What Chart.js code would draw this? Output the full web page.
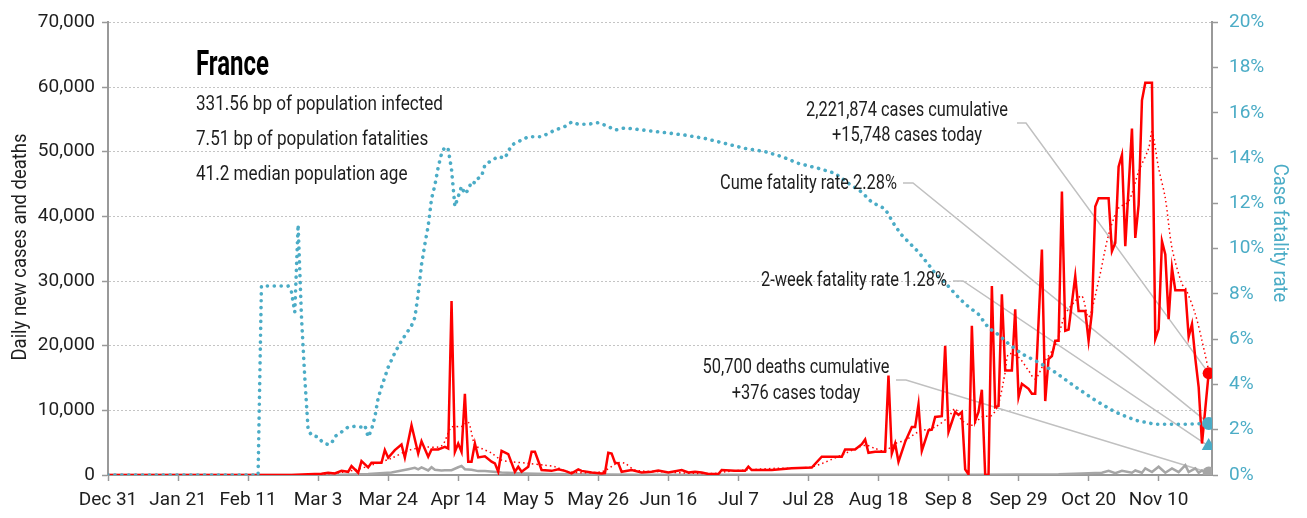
<!DOCTYPE html>
<html>
<head>
<meta charset="utf-8">
<script src="https://cdn.jsdelivr.net/npm/chart.js@4.4.1/dist/chart.umd.min.js"></script>
<style>
  html, body { margin: 0; padding: 0; background: #fff; }
  #wrap { width: 1307px; height: 518px; }
</style>
</head>
<body>
<div id="wrap"><canvas id="chart"></canvas></div>
<script>
// France: daily cases / deaths and case fatality rate

// DATA
// ============================================================
// x values are days since Dec 31
const xTickDays   = [0, 21, 42, 63, 84, 105, 126, 147, 168, 189, 210, 231, 252, 273, 294, 315];
const xTickLabels = ['Dec 31','Jan 21','Feb 11','Mar 3','Mar 24','Apr 14','May 5','May 26',
                     'Jun 16','Jul 7','Jul 28','Aug 18','Sep 8','Sep 29','Oct 20','Nov 10'];
const lastDay = 330;

// [day, new cases]
const dailyCases = [
  [0,0],[55,0],[60,100],[64,200],[66,350],[68,250],[70,660],[72,500],[73,1380],[75,350],[76,2150],
  [78,1180],[79,1900],[82,1900],[83,3850],[84,2670],[86,3850],[88,4720],[89,2670],[91,7690],[93,3330],
  [94,5230],[96,2820],[97,3950],[99,3950],[101,4360],[102,4100],[103,26900],[104,3590],[105,4870],
  [106,3590],[107,12560],[108,2050],[109,2050],[110,4870],[111,2720],[113,2900],[115,2050],[116,1800],
  [117,500],[118,3740],[120,3230],[122,500],[123,1280],[124,500],[126,1280],[127,3590],[128,3590],
  [130,770],[133,640],[135,870],[137,640],[139,250],[141,870],[142,640],[145,400],[148,250],[149,300],
  [150,3440],[151,3330],[152,1900],[153,1800],[154,500],[157,770],[160,400],[163,500],[165,700],
  [168,400],[172,770],[174,400],[176,500],[178,400],[180,150],[183,150],[184,770],[188,640],[191,640],
  [192,1280],[193,770],[199,770],[205,1030],[211,1150],[214,2820],[220,2820],[221,3950],[224,3950],
  [226,4770],[227,5490],[228,3440],[230,3600],[233,3600],[234,15380],[235,3330],[236,4870],[237,2050],
  [239,5130],[241,7440],[242,7440],[243,10920],[244,3740],[246,6920],[247,7000],[248,8970],[250,9100],
  [251,20000],[252,6670],[254,9740],[255,9300],[256,9740],[257,870],[258,100],[259,23080],[260,8360],
  [261,9740],[262,13180],[263,0],[264,0],[265,29230],[266,10500],[267,10700],[268,27950],[269,16150],
  [271,16150],[272,25640],[273,12050],[274,14100],[276,13330],[277,12560],[278,12560],[280,34870],
  [281,11440],[282,17950],[283,18400],[284,20770],[285,20770],[286,43850],[287,22300],[288,22500],
  [290,30770],[291,25380],[293,25380],[294,20770],[295,25130],[296,41540],[297,42820],[300,42820],
  [301,34620],[302,35900],[303,47690],[304,49490],[305,35380],[307,53590],[308,36670],[309,41790],
  [310,57950],[311,60670],[313,60670],[314,21030],[315,22560],[316,36150],[317,34100],[318,24100],
  [319,32050],[320,28560],[323,28560],[324,21380],[325,23330],[326,18000],[327,13590],[328,4870],
  [329,10300],[330,15748]
];

// [day, 7-day average of new cases]
const avgCases = [
  [0,0],[60,0],[66,200],[70,400],[75,900],[80,1700],[85,2600],[90,3800],[95,4300],[100,4500],
  [103,7400],[106,7500],[108,8200],[110,4600],[112,4100],[115,3380],[118,2300],[121,2050],[126,1800],
  [131,1500],[134,1280],[138,500],[148,500],[153,1900],[155,1800],[158,770],[166,500],[176,250],
  [182,250],[185,500],[191,770],[200,1030],[211,1280],[221,3330],[227,4600],[230,4100],[233,3720],
  [236,4870],[239,5380],[243,6670],[248,7440],[252,8970],[254,10260],[256,8460],[259,7700],[262,8970],
  [265,9230],[267,11030],[269,15900],[270,18720],[273,18200],[276,16150],[278,14870],[281,17690],
  [284,20000],[287,24870],[290,26900],[292,27700],[294,24400],[297,30000],[300,37180],[303,41280],
  [306,42300],[309,46920],[312,50510],[313,53080],[315,47430],[317,42820],[319,35120],[322,29490],
  [323,28970],[326,24870],[328,20770],[330,16150]
];

// [day, new deaths]
const dailyDeaths = [
  [0,0],[60,0],[70,50],[78,150],[85,400],[90,900],[92,1100],[93,880],[94,1180],[96,700],[97,1200],
  [98,800],[100,700],[101,750],[103,750],[105,1200],[106,1400],[107,900],[109,800],[111,600],[113,600],
  [118,400],[125,250],[132,150],[140,100],[150,80],[160,50],[180,20],[220,20],[260,50],[285,100],
  [292,250],[298,350],[300,660],[302,300],[304,660],[307,350],[308,700],[310,350],[311,1030],[313,450],
  [315,1280],[317,350],[319,1030],[321,450],[323,1530],[324,450],[326,1030],[327,350],[328,700],[330,376]
];

// [day, case fatality rate %]
const fatalityRate = [
  [0,0],[45,0],[46,8.35],[54,8.35],[55,8.1],[56,7.2],[57,11.06],[58,7.0],[59,4.3],[60,2.0],[61,1.76],
  [63,1.68],[64,1.5],[65,1.39],[66,1.35],[67,1.39],[68,1.7],[70,1.9],[72,2.12],[74,2.15],[76,2.12],
  [77,2.2],[78,1.68],[79,2.0],[80,2.56],[81,3.4],[82,3.88],[84,4.76],[86,5.4],[88,5.93],[91,6.6],
  [92,6.96],[93,8.0],[94,9.3],[95,10.2],[96,11.0],[97,12.2],[98,12.8],[99,13.6],[100,14.2],[101,14.5],
  [102,14.4],[103,13.5],[104,11.87],[105,12.3],[106,12.75],[107,12.42],[108,12.6],[109,12.97],[110,12.9],
  [111,13.11],[112,13.2],[113,13.7],[115,13.9],[117,14.07],[119,14.0],[121,14.58],[124,14.8],[126,14.95],
  [130,14.95],[134,15.24],[137,15.4],[139,15.6],[141,15.5],[144,15.5],[147,15.57],[150,15.4],[152,15.24],
  [155,15.34],[160,15.25],[167,15.13],[173,15.02],[179,14.87],[185,14.65],[191,14.43],[197,14.29],
  [202,14.07],[207,13.77],[213,13.55],[218,13.33],[222,12.89],[226,12.5],[229,12.05],[233,11.76],
  [236,11.0],[238,10.6],[240,10.3],[243,9.85],[246,9.3],[248,8.9],[251,8.5],[254,8.0],[257,7.55],
  [261,7.1],[264,6.5],[267,6.2],[270,5.8],[274,5.35],[279,4.98],[284,4.54],[290,3.9],[296,3.3],
  [302,2.78],[308,2.42],[314,2.24],[322,2.24],[330,2.28]
];

const totalCases   = 2221874;
const todayCases   = 15748;
const totalDeaths  = 50700;
const todayDeaths  = 376;
const cumeRate     = 2.28;
const twoWeekRate  = 1.28;

const statLines = [
  '331.56 bp of population infected',
  '7.51 bp of population fatalities',
  '41.2 median population age'
];

// STYLE
// ============================================================
const FONT  = "Roboto, 'Liberation Sans', sans-serif";
const RED   = '#ff0000';
const TEAL  = '#4bacc6';
const GREY  = '#a6a6a6';
const AXIS  = '#999999';
const INK   = '#1e1e1e';

const xy = arr => arr.map(([x, y]) => ({ x, y }));
const fmt = n => n.toLocaleString('en-US');

// squeeze text horizontally so it looks like the narrow face of the original
function narrowText(ctx, text, x, y, sx) {
  ctx.save();
  ctx.translate(x, y);
  ctx.scale(sx, 1);
  ctx.fillText(text, 0, 0);
  ctx.restore();
}
function squeezeFor(ctx, font, sample, width) {
  ctx.font = font;
  return width / ctx.measureText(sample).width;
}

// NOTES + LEADERS
// ============================================================
const notesPlugin = {
  id: 'notes',
  beforeDatasetsDraw(chart) {
    const { ctx, scales: { x, y, y2 } } = chart;
    const ex = x.getPixelForValue(lastDay);
    const leaders = [
      [1017, 123, 1026, y.getPixelForValue(todayCases)],
      [903, 183, 913, y2.getPixelForValue(cumeRate)],
      [953, 281, 963, y2.getPixelForValue(twoWeekRate)],
      [896, 380, 906, y.getPixelForValue(todayDeaths)],
    ];
    ctx.save();
    ctx.strokeStyle = '#c0c0c0';
    ctx.lineWidth = 1.5;
    leaders.forEach(([x0, y0, x1, yEnd]) => {
      ctx.beginPath();
      ctx.moveTo(x0, y0);
      ctx.lineTo(x1, y0);
      ctx.lineTo(ex, yEnd);
      ctx.stroke();
    });
    ctx.restore();
  },
  afterDraw(chart) {
    const { ctx } = chart;
    ctx.save();
    ctx.textBaseline = 'alphabetic';

    // title block
    ctx.fillStyle = '#000';
    let sx = squeezeFor(ctx, `bold 35px ${FONT}`, 'France', 73);
    narrowText(ctx, 'France', 196, 75, sx);
    ctx.fillStyle = INK;
    sx = squeezeFor(ctx, `21px ${FONT}`, statLines[0], 247);
    statLines.forEach((t, i) => narrowText(ctx, t, 196, 110 + i * 35, sx));

    // callouts
    const cume = `Cume fatality rate ${cumeRate.toFixed(2)}%`;
    sx = squeezeFor(ctx, `20px ${FONT}`, cume, 177);
    ctx.textBaseline = 'middle';
    ctx.textAlign = 'center';
    narrowText(ctx, `${fmt(totalCases)} cases cumulative`, 907, 111, sx);
    narrowText(ctx, `+${fmt(todayCases)} cases today`, 907, 136, sx);
    narrowText(ctx, `${fmt(totalDeaths)} deaths cumulative`, 796, 368, sx);
    narrowText(ctx, `+${fmt(todayDeaths)} cases today`, 796, 394, sx);
    ctx.textAlign = 'right';
    narrowText(ctx, cume, 897, 184, sx);
    narrowText(ctx, `2-week fatality rate ${twoWeekRate.toFixed(2)}%`, 947, 281, sx);

    // axis titles
    ctx.textAlign = 'center';
    sx = squeezeFor(ctx, `21px ${FONT}`, 'Daily new cases and deaths', 227);
    ctx.save();
    ctx.translate(21, 247);
    ctx.rotate(-Math.PI / 2);
    ctx.fillStyle = INK;
    narrowText(ctx, 'Daily new cases and deaths', 0, 0, sx);
    ctx.restore();
    ctx.save();
    ctx.translate(1279, 233);
    ctx.rotate(Math.PI / 2);
    ctx.fillStyle = TEAL;
    narrowText(ctx, 'Case fatality rate', 0, 0, sx);
    ctx.restore();

    ctx.restore();
  }
};

// CHART
// ============================================================
new Chart(document.getElementById('chart'), {
  type: 'line',
  data: {
    datasets: [
      { label: 'cases today', data: [{ x: lastDay, y: todayCases }], yAxisID: 'y', order: 0,
        showLine: false, pointRadius: 6, pointBackgroundColor: RED, pointBorderWidth: 0 },
      { label: 'cume rate', data: [{ x: lastDay, y: cumeRate }], yAxisID: 'y2', order: 0,
        showLine: false, pointRadius: 6.5, pointBackgroundColor: TEAL, pointBorderWidth: 0 },
      { label: '2-week rate', data: [{ x: lastDay, y: twoWeekRate }], yAxisID: 'y2', order: 0,
        showLine: false, pointStyle: 'triangle', pointRadius: 8, pointBackgroundColor: TEAL, pointBorderWidth: 0 },
      { label: 'deaths today', data: [{ x: lastDay, y: todayDeaths }], yAxisID: 'y', order: 0,
        showLine: false, pointRadius: 6, pointBackgroundColor: GREY, pointBorderWidth: 0 },
      { label: 'Daily cases', data: xy(dailyCases), yAxisID: 'y', order: 2,
        borderColor: RED, borderWidth: 2.5, pointRadius: 0, tension: 0 },
      { label: 'Cases 7-day avg', data: xy(avgCases), yAxisID: 'y', order: 3,
        borderColor: RED, borderWidth: 1.5, borderDash: [1.5, 3], pointRadius: 0, tension: 0.3 },
      { label: 'Daily deaths', data: xy(dailyDeaths), yAxisID: 'y', order: 4,
        borderColor: GREY, borderWidth: 2.5, pointRadius: 0, tension: 0 },
      { label: 'Case fatality rate', data: xy(fatalityRate), yAxisID: 'y2', order: 1,
        borderColor: TEAL, borderWidth: 3.6, borderDash: [0.1, 6.8], borderCapStyle: 'round',
        pointRadius: 0, tension: 0 },
    ]
  },
  options: {
    responsive: true,
    maintainAspectRatio: false,
    animation: false,
    devicePixelRatio: 1,
    layout: { padding: { top: 20, left: 0, right: 0, bottom: 0 } },
    plugins: { legend: { display: false }, tooltip: { enabled: false } },
    scales: {
      x: {
        type: 'linear', min: 0, max: lastDay + 1,
        afterBuildTicks: s => { s.ticks = xTickDays.map(v => ({ value: v })); },
        afterFit: s => { s.height = 43; },
        ticks: {
          autoSkip: false, maxRotation: 0, padding: 8, color: INK,
          font: { family: FONT, size: 19 },
          callback: v => xTickLabels[xTickDays.indexOf(v)] ?? ''
        },
        grid: { drawOnChartArea: false, tickLength: 6, tickColor: AXIS, tickWidth: 1.5 },
        border: { color: AXIS, width: 2 }
      },
      y: {
        position: 'left', min: 0, max: 70000,
        afterFit: s => { s.width = 108; },
        ticks: { stepSize: 10000, padding: 7, color: INK, font: { family: FONT, size: 19 },
                 callback: v => fmt(v) },
        grid: { color: '#c4c4c4', lineWidth: 1, tickLength: 6, tickColor: AXIS, tickWidth: 1.5 },
        border: { color: AXIS, width: 2, dash: [2, 2] }
      },
      y2: {
        position: 'right', min: 0, max: 20,
        afterFit: s => { s.width = 95; },
        ticks: { stepSize: 2, padding: 11, color: TEAL, font: { family: FONT, size: 19 },
                 callback: v => v + '%' },
        grid: { drawOnChartArea: false, tickLength: 6, tickColor: AXIS, tickWidth: 1.5 },
        border: { color: AXIS, width: 2 }
      }
    }
  },
  plugins: [notesPlugin]
});
</script>
</body>
</html>
